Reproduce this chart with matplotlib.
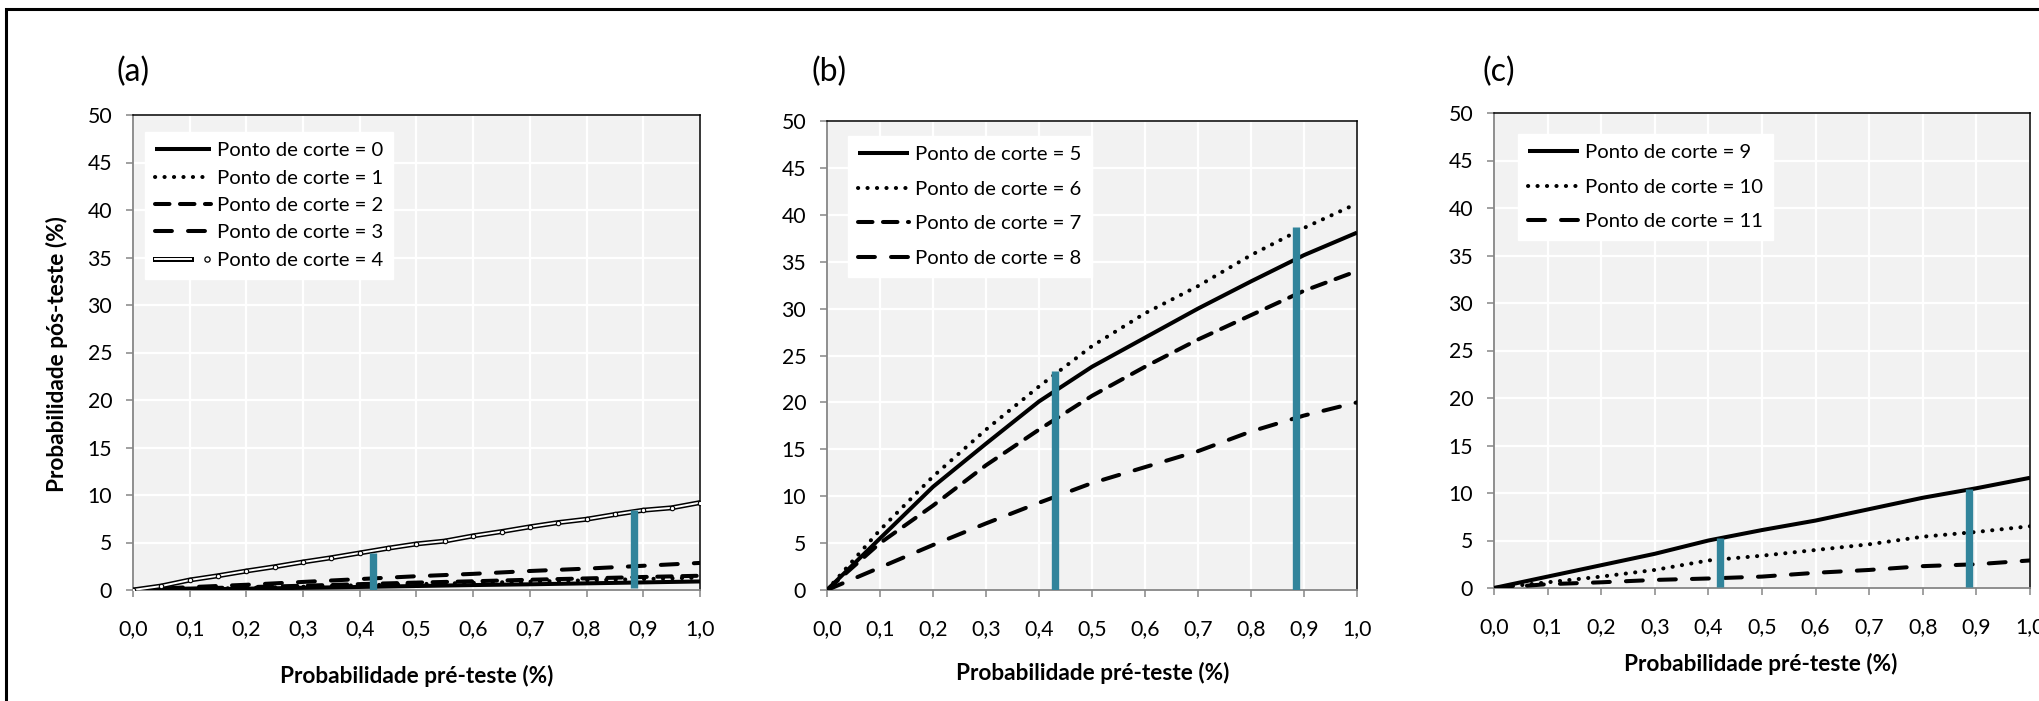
import matplotlib
matplotlib.use("Agg")
import matplotlib.pyplot as plt
from matplotlib.lines import Line2D
from matplotlib.legend_handler import HandlerBase
from matplotlib.patches import Rectangle

# pre-test probability grid (x axis)
X = [0.0, 0.1, 0.2, 0.3, 0.4, 0.5, 0.6, 0.7, 0.8, 0.9, 1.0]
X_FINE = [0.0, 0.05, 0.1, 0.15, 0.2, 0.25, 0.3, 0.35, 0.4, 0.45, 0.5,
          0.55, 0.6, 0.65, 0.7, 0.75, 0.8, 0.85, 0.9, 0.95, 1.0]

# post-test probability per cut-off point
C0 = [0, 0.05, 0.14, 0.23, 0.32, 0.42, 0.52, 0.6, 0.7, 0.8, 0.9]
C1 = [0, 0.1, 0.22, 0.35, 0.5, 0.62, 0.75, 0.88, 1.02, 1.15, 1.3]
C2 = [0, 0.15, 0.3, 0.45, 0.62, 0.78, 0.92, 1.08, 1.22, 1.37, 1.5]
C3 = [0, 0.3, 0.55, 0.85, 1.15, 1.45, 1.7, 2.0, 2.25, 2.55, 2.85]
C4 = [0, 0.42, 1.05, 1.5, 2.0, 2.45, 2.95, 3.4, 3.9, 4.4, 4.85,
      5.15, 5.7, 6.15, 6.65, 7.1, 7.45, 7.95, 8.4, 8.65, 9.2]
C5 = [0, 5.5, 11.0, 15.6, 20.1, 23.8, 26.9, 30.0, 32.9, 35.7, 38.1]
C6 = [0, 6.4, 12.1, 17.1, 21.7, 26.0, 29.5, 32.4, 35.7, 38.6, 41.2]
C7 = [0, 5.0, 9.0, 13.3, 17.1, 20.7, 23.8, 26.7, 29.3, 31.9, 34.0]
C8 = [0, 2.4, 4.8, 7.1, 9.3, 11.4, 13.1, 14.8, 16.9, 18.6, 20.0]
C9 = [0, 1.2, 2.4, 3.6, 5.0, 6.1, 7.1, 8.3, 9.5, 10.5, 11.6]
C10 = [0, 0.6, 1.2, 1.9, 2.9, 3.4, 4.0, 4.6, 5.4, 5.9, 6.5]
C11 = [0, 0.4, 0.6, 0.85, 1.0, 1.2, 1.6, 1.9, 2.3, 2.5, 2.9]

# teal markers (vertical bars): x position, bottom, top
BAR_X = {"a": [0.423, 0.884], "b": [0.43, 0.885], "c": [0.422, 0.886]}
BAR_LO = {"a": [0.0, 0.2], "b": [0.0, 0.0], "c": [0.15, 0.15]}
BAR_HI = {"a": [3.9, 8.4], "b": [23.3, 38.7], "c": [5.3, 10.45]}

TEAL = "#31849B"
GRAYAX = "#868686"
LW = 2.9
STYLE = {
    "solid": dict(ls="-", lw=LW, solid_capstyle="butt"),
    "dot": dict(ls=(0, (0.05, 2.3)), lw=LW, dash_capstyle="round"),
    "dash": dict(ls=(0, (3.6, 2.6)), lw=LW, dash_capstyle="round"),
    "long": dict(ls=(0, (4.2, 4.0)), lw=LW, dash_capstyle="round"),
}
FS_TICK = 15.3
FS_LEG = 14.6
FS_LAB = 16.3
FS_TAG = 23

W, H = 2040, 701
plt.rcParams.update({"font.family": ["Lato", "DejaVu Sans"], "font.size": FS_TICK})


class HandlerDouble(HandlerBase):
    """double line + small circle marker, like the Excel legend entry."""
    def create_artists(self, legend, orig_handle, xdescent, ydescent,
                       width, height, fontsize, trans):
        y = (height - ydescent) / 2.0
        x0, x1 = -xdescent, -xdescent + 0.64 * width
        outer = Line2D([x0, x1], [y, y], color="black", lw=3.6, transform=trans)
        inner = Line2D([x0, x1], [y, y], color="white", lw=1.4, transform=trans)
        mk = Line2D([-xdescent + 0.93 * width], [y], ls="none", marker="o", ms=3.8,
                    mfc="white", mec="black", mew=0.9, transform=trans)
        return [outer, inner, mk]


def fig_rect(x0, y0, x1, y1):
    return [x0 / W, 1 - y1 / H, (x1 - x0) / W, (y1 - y0) / H]


def setup(ax):
    ax.set_facecolor("#F2F2F2")
    ax.set_xlim(0, 1); ax.set_ylim(0, 50)
    ax.set_xticks(X)
    ax.set_xticklabels([f"{v:.1f}".replace(".", ",") for v in X])
    ax.set_yticks(range(0, 55, 5))
    ax.grid(True, color="white", lw=1.6); ax.set_axisbelow(True)
    for s in ("left", "bottom"):
        ax.spines[s].set_color(GRAYAX); ax.spines[s].set_linewidth(1.3)
    for s in ("top", "right"):
        ax.spines[s].set_color("black"); ax.spines[s].set_linewidth(1.1)
    ax.tick_params(axis="both", direction="out", length=5, width=1.1,
                   color=GRAYAX, labelsize=FS_TICK)
    ax.tick_params(axis="x", pad=16)
    ax.tick_params(axis="y", pad=10)


def bars(ax, key):
    ax.vlines(BAR_X[key], BAR_LO[key], BAR_HI[key], color=TEAL, lw=5.3, zorder=8)


def legend(ax, handles, labels, anchor, spacing, hlen):
    hmap = {h: HandlerDouble() for h in handles if h.get_label() == "double"}
    ax.legend(handles, labels, loc="upper left", bbox_to_anchor=anchor,
              borderaxespad=0, frameon=True, fancybox=False, edgecolor="white",
              facecolor="white", framealpha=1.0, fontsize=FS_LEG, handlelength=hlen,
              handletextpad=0.3, labelspacing=spacing, borderpad=0.5,
              handler_map=hmap)


fig = plt.figure(figsize=(W / 100, H / 100), dpi=100)
fig.add_artist(Rectangle((6.5 / W, -0.2), 1.2, 1.2 - 9 / H, transform=fig.transFigure,
                         fill=False, ec="black", lw=2.2, clip_on=False))

# ---- (a)
axA = fig.add_axes(fig_rect(133, 115, 700, 590))
setup(axA)
lines = []
for y, st in ((C0, "solid"), (C1, "dot"), (C2, "dash"), (C3, "long")):
    lines += axA.plot(X, y, color="black", zorder=4, **STYLE[st])
axA.plot(X_FINE, C4, color="black", lw=3.6, zorder=5)
axA.plot(X_FINE, C4, color="white", lw=1.4, zorder=5)
axA.plot(X_FINE, C4, ls="none", marker="o", ms=3.2, mfc="white", mec="black",
         mew=0.8, zorder=6)
bars(axA, "a")
double = Line2D([], [], color="black", label="double")
legend(axA, lines + [double], [f"Ponto de corte = {i}" for i in range(5)],
       (0.021, 0.964), 0.5, 2.75)

# ---- (b)
axB = fig.add_axes(fig_rect(827, 121, 1357, 590))
setup(axB)
lines = []
for y, st in ((C5, "solid"), (C6, "dot"), (C7, "dash"), (C8, "long")):
    lines += axB.plot(X, y, color="black", zorder=4, **STYLE[st])
bars(axB, "b")
legend(axB, lines, [f"Ponto de corte = {i}" for i in range(5, 9)],
       (0.04, 0.968), 0.85, 2.5)

# ---- (c)
axC = fig.add_axes(fig_rect(1494, 113, 2030, 588))
setup(axC)
lines = []
for y, st in ((C9, "solid"), (C10, "dot"), (C11, "long")):
    lines += axC.plot(X, y, color="black", zorder=4, **STYLE[st])
bars(axC, "c")
legend(axC, lines, [f"Ponto de corte = {i}" for i in range(9, 12)],
       (0.045, 0.956), 0.85, 2.5)

# panel tags and axis titles
for x, tag in ((133, "(a)"), (829, "(b)"), (1499, "(c)")):
    fig.text(x / W, 1 - 72 / H, tag, ha="center", va="center", fontsize=FS_TAG)
for x, y in ((417, 676), (1093, 673), (1761, 664)):
    fig.text(x / W, 1 - y / H, "Probabilidade pré-teste (%)", ha="center",
             va="center", fontsize=FS_LAB, fontweight="bold")
fig.text(57 / W, 1 - 354 / H, "Probabilidade pós-teste (%)", ha="center",
         va="center", rotation=90, fontsize=FS_LAB, fontweight="bold")

fig.savefig("out.png", dpi=100)
